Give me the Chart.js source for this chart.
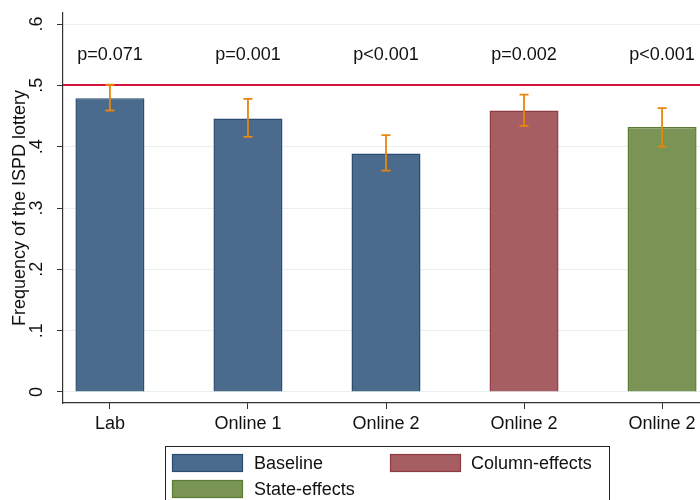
<!DOCTYPE html>
<html>
<head>
<meta charset="utf-8">
<script src="https://cdn.jsdelivr.net/npm/chart.js@4.4.1/dist/chart.umd.min.js"></script>
<style>
  html, body { margin: 0; padding: 0; background: #fff; width: 700px; height: 500px; overflow: hidden; }
  #wrap { width: 720px; height: 500px; }
</style>
</head>
<body>
<div id="wrap"><canvas id="c" width="720" height="500"></canvas></div>
<script>
// Share of subjects choosing the ISPD lottery, by treatment
const categories = ['Lab', 'Online 1', 'Online 2', 'Online 2', 'Online 2'];
const groups = ['Baseline', 'Baseline', 'Baseline', 'Column-effects', 'State-effects'];
const frequency = [0.479, 0.446, 0.389, 0.459, 0.432];
const ciLower = [0.459, 0.416, 0.361, 0.434, 0.400];
const ciUpper = [0.501, 0.478, 0.419, 0.485, 0.463];
const pValues = ['p=0.071', 'p=0.001', 'p<0.001', 'p=0.002', 'p<0.001'];
const pLabelLevel = 0.55;
const yTicks = [0, 0.1, 0.2, 0.3, 0.4, 0.5, 0.6];
const referenceLine = 0.5;
const legendNames = ['Baseline', 'Column-effects', 'State-effects'];

const fills = { 'Baseline': '#4a6b8c', 'Column-effects': '#a65e62', 'State-effects': '#7a9456' };
const edges = { 'Baseline': '#2b4c70', 'Column-effects': '#8f3b42', 'State-effects': '#5a7a32' };
const FONT = '"Liberation Sans", Arial, sans-serif';
const FS = 18;
const TEXT = '#111';
const AXIS = '#333';

const datasets = legendNames.map(name => ({
  label: name,
  data: categories.map((c, i) => ({ x: i + 1, y: frequency[i] })).filter((p, i) => groups[i] === name),
  backgroundColor: fills[name],
  borderColor: edges[name],
  borderWidth: 1.5,
  grouped: false,
  barPercentage: 0.5,
  categoryPercentage: 1.0
}));

const overlays = {
  id: 'overlays',
  afterDatasetsDraw(chart) {
    const { ctx, chartArea, scales: { x, y } } = chart;
    ctx.save();
    // reference line at one half
    const ry = Math.round(y.getPixelForValue(referenceLine));
    ctx.strokeStyle = '#d2143e';
    ctx.lineWidth = 2;
    ctx.beginPath();
    ctx.moveTo(chartArea.left, ry);
    ctx.lineTo(chartArea.right, ry);
    ctx.stroke();
    // confidence intervals
    ctx.strokeStyle = '#e8860c';
    ctx.lineWidth = 1.8;
    categories.forEach((c, i) => {
      const cx = x.getPixelForValue(i + 1);
      const top = y.getPixelForValue(ciUpper[i]);
      const bot = y.getPixelForValue(ciLower[i]);
      ctx.beginPath();
      ctx.moveTo(cx, top); ctx.lineTo(cx, bot);
      ctx.moveTo(cx - 4.5, top); ctx.lineTo(cx + 4.5, top);
      ctx.moveTo(cx - 4.5, bot); ctx.lineTo(cx + 4.5, bot);
      ctx.stroke();
    });
    // test results above each bar
    ctx.fillStyle = TEXT;
    ctx.font = FS + 'px ' + FONT;
    ctx.textAlign = 'center';
    ctx.textBaseline = 'middle';
    pValues.forEach((t, i) => {
      ctx.fillText(t, x.getPixelForValue(i + 1), y.getPixelForValue(pLabelLevel));
    });
    ctx.restore();
  },
  afterDraw(chart) {
    const { ctx } = chart;
    ctx.save();
    ctx.strokeStyle = '#222';
    ctx.lineWidth = 1;
    ctx.strokeRect(165.5, 446.5, 444, 70);
    const slots = [
      { sx: 172, sy: 454, tx: 254 },
      { sx: 390, sy: 454, tx: 471 },
      { sx: 172, sy: 480, tx: 254 }
    ];
    ctx.font = FS + 'px ' + FONT;
    ctx.textBaseline = 'middle';
    ctx.textAlign = 'left';
    legendNames.forEach((name, i) => {
      const s = slots[i];
      ctx.fillStyle = fills[name];
      ctx.fillRect(s.sx, s.sy, 71, 18);
      ctx.strokeStyle = edges[name];
      ctx.lineWidth = 1.2;
      ctx.strokeRect(s.sx + 0.5, s.sy + 0.5, 70, 17);
      ctx.fillStyle = TEXT;
      ctx.fillText(name, s.tx, s.sy + 10);
    });
    ctx.restore();
  }
};

new Chart(document.getElementById('c'), {
  type: 'bar',
  data: { datasets },
  plugins: [overlays],
  options: {
    responsive: false,
    animation: false,
    devicePixelRatio: 1,
    layout: { padding: { left: 0, top: 13, right: 11, bottom: 0 } },
    plugins: { legend: { display: false }, tooltip: { enabled: false } },
    scales: {
      x: {
        type: 'linear',
        min: 0.66,
        max: 5.34,
        offset: false,
        afterBuildTicks(axis) {
          axis.ticks = categories.map((c, i) => ({ value: i + 1 }));
        },
        afterFit(axis) {
          axis.height = 97;
          axis.paddingLeft = 0;
          axis.paddingRight = 0;
        },
        ticks: {
          autoSkip: false,
          maxRotation: 0,
          minRotation: 0,
          padding: 4,
          color: TEXT,
          font: { family: FONT, size: FS },
          callback: v => categories[v - 1] ?? ''
        },
        grid: { drawOnChartArea: false, offset: false, tickLength: 6, tickColor: AXIS, tickWidth: 1 },
        border: { color: AXIS, width: 1.2 }
      },
      y: {
        min: -0.018,
        max: 0.618,
        afterBuildTicks(axis) { axis.ticks = yTicks.map(v => ({ value: v })); },
        afterFit(axis) {
          axis.width = 63;
          axis.paddingTop = 0;
          axis.paddingBottom = 0;
        },
        ticks: {
          minRotation: 90,
          maxRotation: 90,
          crossAlign: 'center',
          padding: 12,
          color: TEXT,
          font: { family: FONT, size: FS },
          callback: v => v === 0 ? '0' : v.toFixed(1).replace(/^0\./, '.')
        },
        grid: { color: '#e8f0ef', lineWidth: 1, tickLength: 6, tickColor: AXIS, tickWidth: 1 },
        border: { color: AXIS, width: 1.2 },
        title: {
          display: true,
          text: 'Frequency of the ISPD lottery',
          color: TEXT,
          font: { family: FONT, size: FS },
          padding: { top: 9, bottom: 0 }
        }
      }
    }
  }
});
</script>
</body>
</html>
